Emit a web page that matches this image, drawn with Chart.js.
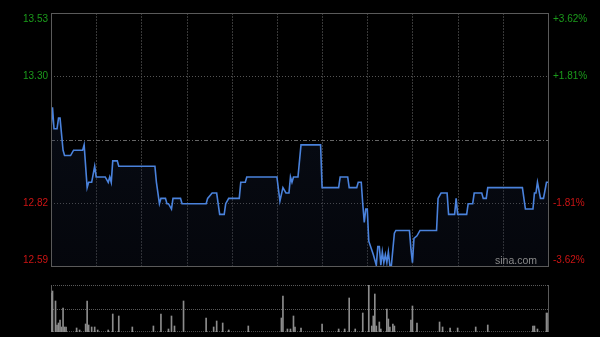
<!DOCTYPE html>
<html>
<head>
<meta charset="utf-8">
<script src="https://cdn.jsdelivr.net/npm/chart.js@4/dist/chart.umd.min.js"></script>
<style>
html, body { margin: 0; padding: 0; background: #000; }
#wrap { position: relative; width: 600px; height: 337px; background: #000; }
#priceChart { position: absolute; left: 0; top: 0; }
#volChart { position: absolute; left: 0; top: 275px; }
</style>
</head>
<body>
<div id="wrap">
    <canvas id="priceChart" width="600" height="275"></canvas>
    <canvas id="volChart" width="600" height="62"></canvas>
</div>
<script>
// minutes since 9:30 (lunch break removed, 330 = 16:00)
var minutes = [0, 1, 2, 4, 5, 6, 8, 9, 13, 15, 21, 22, 24, 25, 27, 29, 30, 36, 38, 39, 40, 41, 44, 45,
    69, 70, 72, 73, 76, 77, 78, 80, 81, 86, 87, 103, 104, 107, 110, 112, 115, 116, 118, 125, 126, 129, 130,
    150, 152, 154, 156, 158, 159, 160, 161, 164, 166, 179, 180, 191, 192, 197, 198, 203, 204, 206, 207, 208,
    209, 210, 211, 214, 216, 217, 218, 219, 220, 221, 222, 223, 224, 225, 226, 228, 229, 238, 239, 240, 241,
    243, 245, 256, 257, 259, 263, 264, 268, 269, 270, 276, 277, 280, 281, 286, 287, 289, 290, 313, 315, 320,
    321, 322, 323, 325, 327, 329, 330];
var prices = [13.10, 13.18, 13.10, 13.10, 13.14, 13.14, 13.02, 13.00, 13.00, 13.02, 13.02, 13.04, 12.88, 12.90, 12.90, 12.96, 12.92, 12.92, 12.90, 12.92, 12.90, 12.98, 12.98, 12.96,
    12.96, 12.90, 12.82, 12.84, 12.84, 12.82, 12.82, 12.80, 12.84, 12.84, 12.82, 12.82, 12.84, 12.86, 12.86, 12.78, 12.78, 12.82, 12.84, 12.84, 12.90, 12.90, 12.92,
    12.92, 12.83, 12.88, 12.86, 12.86, 12.92, 12.90, 12.92, 12.92, 13.04, 13.04, 12.88, 12.88, 12.92, 12.92, 12.88, 12.88, 12.90, 12.90, 12.82, 12.75,
    12.80, 12.80, 12.68, 12.63, 12.59, 12.66, 12.66, 12.59, 12.64, 12.60, 12.63, 12.60, 12.64, 12.59, 12.59, 12.71, 12.72, 12.72, 12.65, 12.60, 12.69,
    12.70, 12.72, 12.72, 12.84, 12.86, 12.86, 12.78, 12.78, 12.84, 12.78, 12.78, 12.82, 12.82, 12.86, 12.86, 12.84, 12.84, 12.88, 12.88, 12.80, 12.80,
    12.86, 12.86, 12.90, 12.84, 12.84, 12.90, 12.90];

var volMinutes = [0, 1, 3, 4, 5, 6, 7, 8, 9, 10, 17, 19, 23, 24, 25, 27, 29, 31, 38, 41, 45, 54, 68, 73, 78, 80, 82, 88,
    103, 108, 110, 114, 118, 131, 153, 154, 157, 159, 161, 162, 166, 180, 191, 195, 198, 202, 207, 211, 213, 214,
    215, 216, 218, 219, 223, 224, 225, 227, 228, 239, 240, 243, 258, 260, 265, 270, 282, 290, 320, 321, 323, 329, 330];
var volumes = [39, 41, 31, 7, 9, 12, 5, 24, 5, 5, 4, 2, 8, 31, 7, 5, 5, 2, 2, 18, 16, 5, 6, 18, 3, 16, 6, 31,
    14, 5, 11, 9, 2, 6, 14, 36, 3, 3, 16, 5, 4, 8, 3, 3, 34, 3, 19, 47, 6, 16,
    38, 6, 10, 3, 23, 13, 5, 8, 6, 12, 26, 9, 10, 5, 4, 4, 5, 7, 6, 6, 3, 19, 19];

var prevClose = 13.06;
var priceLabels = ['13.53', '13.30', '', '12.82', '12.59'];
var pctLabels = ['+3.62%', '+1.81%', '', '-1.81%', '-3.62%'];
var yMax = prevClose * 1.0362;
var yMin = prevClose * (1 - 0.0362);

var linePoints = minutes.map(function (m, i) { return { x: m, y: prices[i] }; });
var volPoints = volMinutes.map(function (m, i) { return { x: m, y: volumes[i] }; });

function hLine(ctx, x1, x2, y, color, dash) {
    ctx.save();
    ctx.strokeStyle = color;
    ctx.lineWidth = 1;
    ctx.setLineDash(dash);
    ctx.beginPath();
    ctx.moveTo(x1, Math.round(y) + 0.5);
    ctx.lineTo(x2, Math.round(y) + 0.5);
    ctx.stroke();
    ctx.restore();
}

function vLine(ctx, x, y1, y2, color, dash) {
    ctx.save();
    ctx.strokeStyle = color;
    ctx.lineWidth = 1;
    ctx.setLineDash(dash);
    ctx.beginPath();
    ctx.moveTo(Math.round(x) + 0.5, y1);
    ctx.lineTo(Math.round(x) + 0.5, y2);
    ctx.stroke();
    ctx.restore();
}

// grid, frame and price/percent labels
var priceGrid = {
    id: 'priceGrid',
    beforeDatasetsDraw: function (chart) {
        var ctx = chart.ctx, a = chart.chartArea, xs = chart.scales.x, ys = chart.scales.y;
        for (var m = 30; m < 330; m += 30) {
            vLine(ctx, xs.getPixelForValue(m), a.top, a.bottom, '#383838', [2, 1]);
        }
        var step = (yMax - yMin) / 4;
        for (var i = 1; i < 4; i++) {
            var y = ys.getPixelForValue(yMax - step * i);
            if (i == 2) {
                hLine(ctx, a.left, a.right, y, '#666', [4, 2, 1, 2]);
            } else {
                hLine(ctx, a.left, a.right, y, '#555', [1, 2]);
            }
        }
    },
    afterDatasetsDraw: function (chart) {
        var ctx = chart.ctx, a = chart.chartArea, ys = chart.scales.y;
        ctx.save();
        ctx.strokeStyle = '#5a5a5a';
        ctx.lineWidth = 1;
        ctx.strokeRect(Math.round(a.left) + 0.5, Math.round(a.top) + 0.5, Math.round(a.right - a.left), Math.round(a.bottom - a.top));
        ctx.font = '10px Arial, "Liberation Sans", sans-serif';
        ctx.textBaseline = 'middle';
        var step = (yMax - yMin) / 4;
        for (var i = 0; i < 5; i++) {
            if (!priceLabels[i]) continue;
            var y = ys.getPixelForValue(yMax - step * i);
            if (i == 0) y += 6;
            if (i == 4) y -= 6;
            ctx.fillStyle = i < 2 ? '#1b9b1b' : '#cc1414';
            ctx.textAlign = 'right';
            ctx.fillText(priceLabels[i], a.left - 3, y);
            ctx.textAlign = 'left';
            ctx.fillText(pctLabels[i], a.right + 5, y);
        }
        ctx.fillStyle = '#8a8a8a';
        ctx.font = '10.5px Arial, "Liberation Sans", sans-serif';
        ctx.textAlign = 'right';
        ctx.fillText('sina.com', a.right - 11, a.bottom - 5);
        ctx.restore();
    }
};

var volGrid = {
    id: 'volGrid',
    beforeDatasetsDraw: function (chart) {
        var ctx = chart.ctx, a = chart.chartArea;
        hLine(ctx, a.left, a.right, a.top, '#5a5a5a', [1, 1]);
        hLine(ctx, a.left, a.right, (a.top + a.bottom) / 2, '#5a5a5a', [1, 1]);
        hLine(ctx, a.left, a.right, a.bottom - 1, '#4a4a4a', [1, 1]);
        vLine(ctx, a.left, a.top, a.bottom, '#5a5a5a', []);
        vLine(ctx, a.right, a.top, a.bottom, '#5a5a5a', []);
    }
};

var priceChart = new Chart(document.getElementById('priceChart').getContext('2d'), {
    type: 'line',
    data: {
        datasets: [{
            data: linePoints,
            borderColor: '#4a82dc',
            borderWidth: 1.6,
            pointRadius: 0,
            tension: 0,
            fill: 'start',
            backgroundColor: function (context) {
                var a = context.chart.chartArea;
                if (!a) return 'rgba(20,35,70,0.3)';
                var g = context.chart.ctx.createLinearGradient(0, a.top, 0, a.bottom);
                g.addColorStop(0, 'rgba(30,45,80,0.32)');
                g.addColorStop(1, 'rgba(18,26,48,0.25)');
                return g;
            }
        }]
    },
    options: {
        responsive: false,
        animation: false,
        layout: { padding: { left: 51, right: 52, top: 13, bottom: 9 } },
        scales: {
            x: { type: 'linear', min: 0, max: 330, display: false },
            y: { min: yMin, max: yMax, display: false }
        },
        plugins: { legend: { display: false }, tooltip: { enabled: false } }
    },
    plugins: [priceGrid]
});

var volChart = new Chart(document.getElementById('volChart').getContext('2d'), {
    type: 'bar',
    data: {
        datasets: [{
            data: volPoints,
            backgroundColor: '#8c8c8c',
            barThickness: 1,
            borderWidth: 0
        }]
    },
    options: {
        responsive: false,
        animation: false,
        layout: { padding: { left: 51, right: 52, top: 10, bottom: 5 } },
        scales: {
            x: { type: 'linear', min: 0, max: 330, display: false, offset: false },
            y: { min: 0, max: 47, display: false }
        },
        plugins: { legend: { display: false }, tooltip: { enabled: false } }
    },
    plugins: [volGrid]
});
</script>
</body>
</html>
